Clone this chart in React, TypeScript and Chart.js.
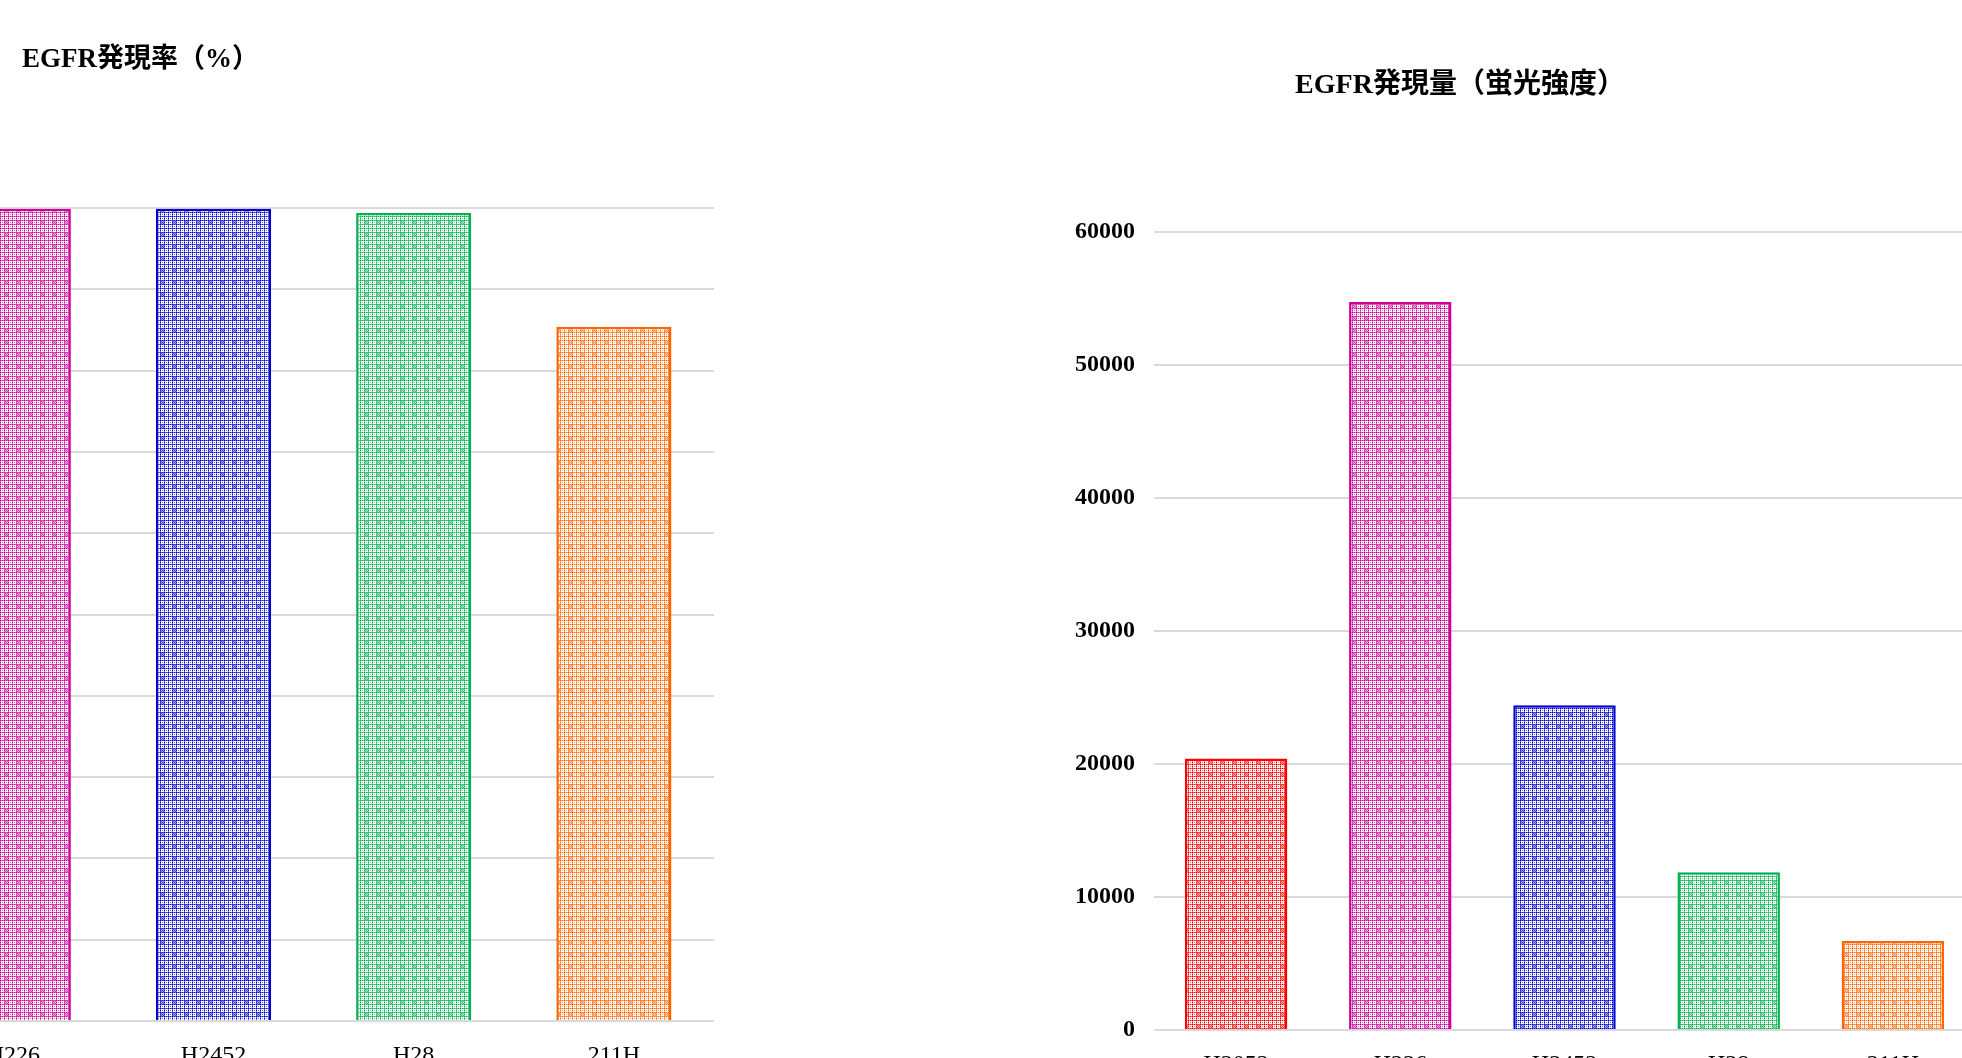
import React, { useEffect, useRef } from "react";
import { Chart } from "chart.js/auto";

// ---- data ----
const categories = ["H2052", "H226", "H2452", "H28", "211H"];
const rateValues = [99.7, 99.9, 99.9, 99.4, 85.4];
const intensityValues = [20400, 54700, 24400, 11850, 6680];
const rateTitle = "EGFR発現率（%）";
const intensityTitle = "EGFR発現量（蛍光強度）";
const rateAxis = { min: 0, max: 100, step: 10 };
const intensityAxis = { min: 0, max: 60000, step: 10000 };
const barColors = ["#FF0000", "#CC0099", "#0000CC", "#00B050", "#FF6600"];

const SERIF = "'Liberation Serif', 'Times New Roman', 'Noto Sans CJK JP', serif";
const TITLE_FAMILY = "'Liberation Serif', 'Noto Sans CJK JP', serif";

function hexToRgb(hex: string) {
  const n = parseInt(hex.slice(1), 16);
  return [(n >> 16) & 255, (n >> 8) & 255, n & 255];
}

function makePattern(color: string): CanvasPattern | string {
  const s = 12;
  const c = document.createElement("canvas");
  c.width = s;
  c.height = s;
  const g = c.getContext("2d");
  if (!g) return color;
  const [r, gg, b] = hexToRgb(color);
  g.fillStyle = "#fff";
  g.fillRect(0, 0, s, s);
  for (let y = 0; y < s; y++) {
    for (let x = 0; x < s; x++) {
      let a = 0;
      const gx = x % 4;
      const gy = y % 4;
      const inBlock = x >= 4 && x < 9 && y >= 4 && y < 9;
      if (gx === 0 && gy === 0) a = 1;
      else if (gx === 0 || gy === 0) a = (x + y) % 2 === 0 ? 0.95 : 0.6;
      else if (inBlock) a = (x + y) % 2 === 0 ? 0.75 : 0.3;
      else if (gx === 2 && gy === 2) a = 0.55;
      if (a > 0) {
        g.fillStyle = `rgba(${r},${gg},${b},${a})`;
        g.fillRect(x, y, 1, 1);
      }
    }
  }
  const p = g.createPattern(c, "repeat");
  return p || color;
}

const titlePlugin = {
  id: "fixedTitle",
  afterDraw(chart: any, _args: any, opts: any) {
    const ctx = chart.ctx;
    ctx.save();
    ctx.font = `bold ${opts.size}px ${TITLE_FAMILY}`;
    ctx.fillStyle = "#000";
    ctx.textAlign = opts.align;
    ctx.textBaseline = "middle";
    ctx.fillText(opts.text, opts.x, opts.y);
    ctx.restore();
  },
};

type Cfg = {
  values: number[];
  axis: { min: number; max: number; step: number };
  title: string;
  titleX: number;
  titleY: number;
  titleSize: number;
  titleAlign: string;
  padTop: number;
  padRight: number;
  yWidth: number;
  barPct: number;
  yTickPad: number;
  xTickPad: number;
};

function BarChart({ cfg, width, height }: { cfg: Cfg; width: number; height: number }) {
  const ref = useRef<HTMLCanvasElement | null>(null);
  useEffect(() => {
    if (!ref.current) return;
    const chart = new Chart(ref.current, {
      type: "bar",
      data: {
        labels: categories,
        datasets: [
          {
            data: cfg.values,
            backgroundColor: barColors.map((c) => makePattern(c)) as any,
            borderColor: barColors,
            borderWidth: 2.5,
            barPercentage: cfg.barPct,
            categoryPercentage: 1,
          },
        ],
      },
      options: {
        responsive: false,
        animation: false,
        devicePixelRatio: 1,
        layout: { padding: { top: cfg.padTop, right: cfg.padRight, left: 0, bottom: 0 } },
        plugins: {
          legend: { display: false },
          tooltip: { enabled: false },
          title: { display: false },
          fixedTitle: {
            text: cfg.title,
            x: cfg.titleX,
            y: cfg.titleY,
            size: cfg.titleSize,
            align: cfg.titleAlign,
          },
        } as any,
        scales: {
          x: {
            grid: { display: false },
            border: { display: false },
            ticks: {
              color: "#000",
              font: { family: SERIF, size: 24 },
              padding: cfg.xTickPad,
              maxRotation: 0,
            },
            afterFit: (s: any) => {
              s.height = 60;
            },
          },
          y: {
            min: cfg.axis.min,
            max: cfg.axis.max,
            border: { display: false },
            grid: { color: "#d9d9d9", lineWidth: 2, drawTicks: false },
            ticks: {
              stepSize: cfg.axis.step,
              color: "#000",
              font: { family: SERIF, size: 24, weight: "bold" },
              padding: cfg.yTickPad,
              callback: (v: any) => String(v),
            },
            afterFit: (s: any) => {
              s.width = cfg.yWidth;
            },
          },
        },
      },
      plugins: [titlePlugin as any],
    });
    return () => chart.destroy();
  }, []);
  return <canvas ref={ref} width={width} height={height} style={{ width, height, display: "block" }} />;
}

export default function App() {
  const leftLeft = -420;
  const rightLeft = 1000;
  const leftCfg: Cfg = {
    values: rateValues,
    axis: rateAxis,
    title: rateTitle,
    titleX: 22 - leftLeft,
    titleY: 60,
    titleSize: 27,
    titleAlign: "left",
    padTop: 208,
    padRight: 16,
    yWidth: 133,
    barPct: 0.575,
    yTickPad: 19,
    xTickPad: 12,
  };
  const rightCfg: Cfg = {
    values: intensityValues,
    axis: intensityAxis,
    title: intensityTitle,
    titleX: 1460 - rightLeft,
    titleY: 86,
    titleSize: 28,
    titleAlign: "center",
    padTop: 231.5,
    padRight: 25,
    yWidth: 154,
    barPct: 0.624,
    yTickPad: 19,
    xTickPad: 12,
  };
  return (
    <div
      style={{
        position: "fixed",
        left: 0,
        top: 0,
        width: 1962,
        height: 1058,
        overflow: "hidden",
        background: "#fff",
      }}
    >
      <div style={{ position: "absolute", left: leftLeft, top: 0 }}>
        <BarChart cfg={leftCfg} width={1150} height={1081} />
      </div>
      <div style={{ position: "absolute", left: rightLeft, top: 0 }}>
        <BarChart cfg={rightCfg} width={1000} height={1090} />
      </div>
    </div>
  );
}
